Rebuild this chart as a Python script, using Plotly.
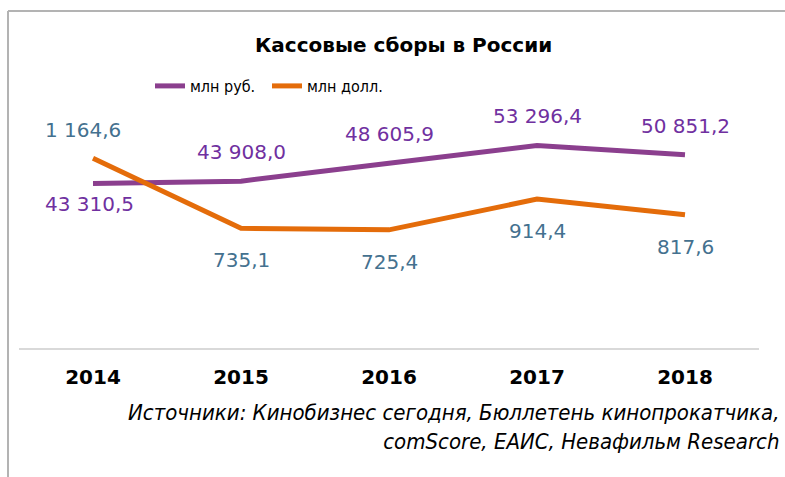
import plotly.graph_objects as go

years = ["2014", "2015", "2016", "2017", "2018"]
rub = [43310.5, 43908.0, 48605.9, 53296.4, 50851.2]
usd = [1164.6, 735.1, 725.4, 914.4, 817.6]
rub_labels = ["43 310,5", "43 908,0", "48 605,9", "53 296,4", "50 851,2"]
usd_labels = ["1 164,6", "735,1", "725,4", "914,4", "817,6"]
rub_name = "млн руб."
usd_name = "млн долл."
title = "Кассовые сборы в России"
source = "Источники: Кинобизнес сегодня, Бюллетень кинопрокатчика,<br>comScore, ЕАИС, Невафильм Research"

PURPLE_LINE = "#8B3F8E"
PURPLE_TXT = "#7030A0"
ORANGE_LINE = "#E46C0A"
BLUE_TXT = "#44718F"
LABEL_FONT = "DejaVu Sans, Verdana, sans-serif"
COND_FONT = "DejaVu Sans Condensed, DejaVu Sans, sans-serif"

fig = go.Figure()
fig.add_trace(go.Scatter(x=years, y=rub, name=rub_name, mode="lines",
                         line=dict(color=PURPLE_LINE, width=5), yaxis="y"))
fig.add_trace(go.Scatter(x=years, y=usd, name=usd_name, mode="lines",
                         line=dict(color=ORANGE_LINE, width=5), yaxis="y2"))

ann = []
for i, (v, t) in enumerate(zip(rub, rub_labels)):
    first = i == 0
    ann.append(dict(x=i, y=v, xref="x", yref="y", text=t, showarrow=False,
                    xanchor="left" if first else "center", xshift=-50 if first else 0,
                    yshift=-21 if first else 29,
                    font=dict(family=LABEL_FONT, size=20, color=PURPLE_TXT)))
for i, (v, t) in enumerate(zip(usd, usd_labels)):
    first = i == 0
    ann.append(dict(x=i, y=v, xref="x", yref="y2", text=t, showarrow=False,
                    xanchor="left" if first else "center", xshift=-50 if first else 0,
                    yshift=28 if first else -32,
                    font=dict(family=LABEL_FONT, size=20, color=BLUE_TXT)))

# title
ann.append(dict(x=(403 - 19) / 740, y=(348 - 45) / 228, xref="paper", yref="paper",
                text="<b>" + title + "</b>", xanchor="center", yanchor="middle",
                showarrow=False, font=dict(family=LABEL_FONT, size=20, color="#000000")))
# source
ann.append(dict(x=(781 - 19) / 740, y=(348 - 427) / 228, xref="paper", yref="paper",
                text="<i>" + source + "</i>", showarrow=False, align="right",
                xanchor="right", yanchor="middle",
                font=dict(family=COND_FONT, size=22, color="#000000")))

fig.update_layout(
    width=785, height=477,
    margin=dict(l=19, r=26, t=120, b=129),
    paper_bgcolor="white", plot_bgcolor="white",
    annotations=ann,
    showlegend=True,
    legend=dict(orientation="h", x=(150 - 19) / 740, y=(348 - 86) / 228,
                xanchor="left", yanchor="middle", entrywidth=72, entrywidthmode="pixels",
                font=dict(family=COND_FONT, size=16, color="#000000"),
                bgcolor="rgba(0,0,0,0)"),
    xaxis=dict(type="category", range=[-0.5, 4.5], showgrid=False, zeroline=False,
               showline=True, linecolor="#D9D9D9", linewidth=1.5, ticks="",
               ticklabelstandoff=10,
               tickfont=dict(family=LABEL_FONT, size=20, color="#000000"),
               tickprefix="<b>", ticksuffix="</b>", fixedrange=True),
    yaxis=dict(range=[0, 60000], visible=False, fixedrange=True),
    yaxis2=dict(range=[0, 1400], visible=False, overlaying="y", side="right", fixedrange=True),
    shapes=[
        dict(type="line", xref="paper", yref="paper", x0=(8 - 19) / 740, x1=(8 - 19) / 740,
             y0=(348 - 11) / 228, y1=(348 - 480) / 228, line=dict(color="#B3B3B3", width=2)),
        dict(type="line", xref="paper", yref="paper", x0=(8 - 19) / 740, x1=(790 - 19) / 740,
             y0=(348 - 11) / 228, y1=(348 - 11) / 228, line=dict(color="#B3B3B3", width=2)),
    ],
)

fig.write_html("out.html", config={"displayModeBar": False},
               post_script="document.body.style.margin='0';")
